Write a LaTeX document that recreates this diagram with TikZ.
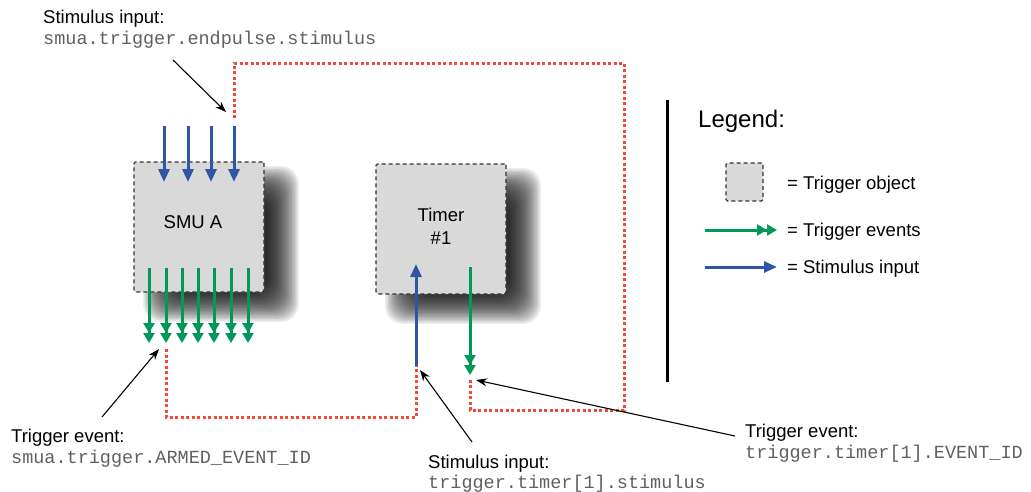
\documentclass[tikz,border=0pt]{standalone}
\usepackage{fontspec}
\setmainfont{Liberation Sans}
\newfontfamily\codefont{Liberation Mono}
\usetikzlibrary{arrows.meta}
\pgfdeclarelayer{background}
\pgfsetlayers{background,main}
\definecolor{stimblue}{HTML}{2F55A4}
\definecolor{evgreen}{HTML}{00995A}
\definecolor{linkred}{HTML}{F24A3A}
\definecolor{boxgray}{HTML}{D9D9D9}
\definecolor{codegray}{HTML}{606060}
\tikzset{
  obj/.style={draw=black!80, fill=boxgray, dash pattern=on 4pt off 3pt, line width=1.2pt,
    rounded corners=1.5pt, minimum width=130pt, minimum height=130pt,
    font=\fontsize{18.5}{23}\selectfont, align=center, inner sep=0pt},
  shadowlayer/.style={fill=black, fill opacity=0.07, rounded corners=18pt},
  stim/.style={draw=stimblue, line width=3pt, -{Triangle[width=11pt,length=13pt]}},
  evt/.style={draw=evgreen, line width=3pt,
    -{Triangle[width=11pt,length=10pt]Triangle[width=11pt,length=10pt]}},
  link/.style={draw=linkred, line width=3pt, dash pattern=on 3pt off 2.5pt},
  callout/.style={draw=black, line width=1.1pt, -{Stealth[length=11pt,width=8pt]}},
  lbl/.style={font=\fontsize{18.5}{22}\selectfont, anchor=base west, inner sep=0pt},
  code/.style={font=\codefont\fontsize{18.5}{22}\selectfont, text=codegray, anchor=base west, inner sep=0pt},
}
\begin{document}
\begin{tikzpicture}[x=1pt,y=-1pt]
\useasboundingbox (0,0) rectangle (1031,491);

% trigger objects
\node[obj] (smu) at (199,227) {};
\node[font=\fontsize{18.5}{22}\selectfont] (smulbl) at (193,222) {SMU A};
\node[obj] (timer) at (441,229) {};
\node[font=\fontsize{18.5}{23}\selectfont, align=center] (timerlbl) at (441,226) {Timer\\\#1};

% soft shadows
\begin{pgfonlayer}{background}
\foreach \b in {smu,timer} {
  \begin{scope}[shift={(\b.center)}]
    \foreach \k in {0,...,29} {
      \pgfmathsetmacro{\h}{78-1.4*\k}
      \fill[shadowlayer] (22-\h,17-\h) rectangle (22+\h,17+\h);
    }
  \end{scope}
}
\end{pgfonlayer}

% stimulus inputs of SMU A
\foreach \i/\x in {1/164,2/188,3/211,4/234} {
  \coordinate (si\i) at (\x,126);
  \coordinate (se\i) at (\x,182);
  \draw[stim] (si\i) -- (se\i);
}
% trigger events of SMU A
\foreach \i/\x in {1/149,2/166,3/182,4/198,5/214,6/231,7/248} {
  \coordinate (ei\i) at (\x,268);
  \coordinate (ee\i) at (\x,343);
  \draw[evt] (ei\i) -- (ee\i);
}
% timer arrows
\coordinate (tsi) at (416,366);
\coordinate (tse) at (416,264);
\draw[stim] (tsi) -- (tse);
\coordinate (tei) at (470,267);
\coordinate (tee) at (470,375);
\draw[evt] (tei) -- (tee);

% red links
\coordinate (l1a) at (234,118);
\coordinate (l1b) at (470,380);
\draw[link] (l1a) -- (234,63) -- (624,63) -- (624,410) -- (470,410) -- (l1b);
\coordinate (l2a) at (166,349);
\coordinate (l2b) at (416,366);
\draw[link] (l2a) -- (166,417) -- (416,417) -- (l2b);

% callouts
\node[lbl] (t1a) at (43,23) {Stimulus input:};
\node[code] (t1b) at (43,44) {smua.trigger.endpulse.stimulus};
\coordinate (c1s) at (173,60);
\coordinate (c1e) at (226,112);
\draw[callout] (c1s) -- (c1e);

\node[lbl] (t2a) at (11,442) {Trigger event:};
\node[code] (t2b) at (11,463) {smua.trigger.ARMED\_EVENT\_ID};
\coordinate (c2s) at (102,417);
\coordinate (c2e) at (159,349);
\draw[callout] (c2s) -- (c2e);

\node[lbl] (t3a) at (428,468) {Stimulus input:};
\node[code] (t3b) at (428,488) {trigger.timer[1].stimulus};
\coordinate (c3s) at (472,442);
\coordinate (c3e) at (420,370);
\draw[callout] (c3s) -- (c3e);

\node[lbl] (t4a) at (745,437) {Trigger event:};
\node[code] (t4b) at (745,458) {trigger.timer[1].EVENT\_ID};
\coordinate (c4s) at (735,436);
\coordinate (c4e) at (476,380);
\draw[callout] (c4s) -- (c4e);

% legend
\coordinate (lg1) at (667,100);
\coordinate (lg2) at (667,382);
\draw[line width=3pt] (lg1) -- (lg2);
\node[font=\fontsize{24}{28}\selectfont, anchor=base west, inner sep=0pt] (legend) at (698,127) {Legend:};
\node[obj, minimum width=37pt, minimum height=38pt] (lgbox) at (744.5,182) {};
\node[lbl] (lgt1) at (787,189) {= Trigger object};
\coordinate (lga1) at (705,230);
\coordinate (lga2) at (777,230);
\draw[evt] (lga1) -- (lga2);
\node[lbl] (lgt2) at (787,236) {= Trigger events};
\coordinate (lgb1) at (705,267);
\coordinate (lgb2) at (777,267);
\draw[stim] (lgb1) -- (lgb2);
\node[lbl] (lgt3) at (787,273) {= Stimulus input};
\end{tikzpicture}
\end{document}
